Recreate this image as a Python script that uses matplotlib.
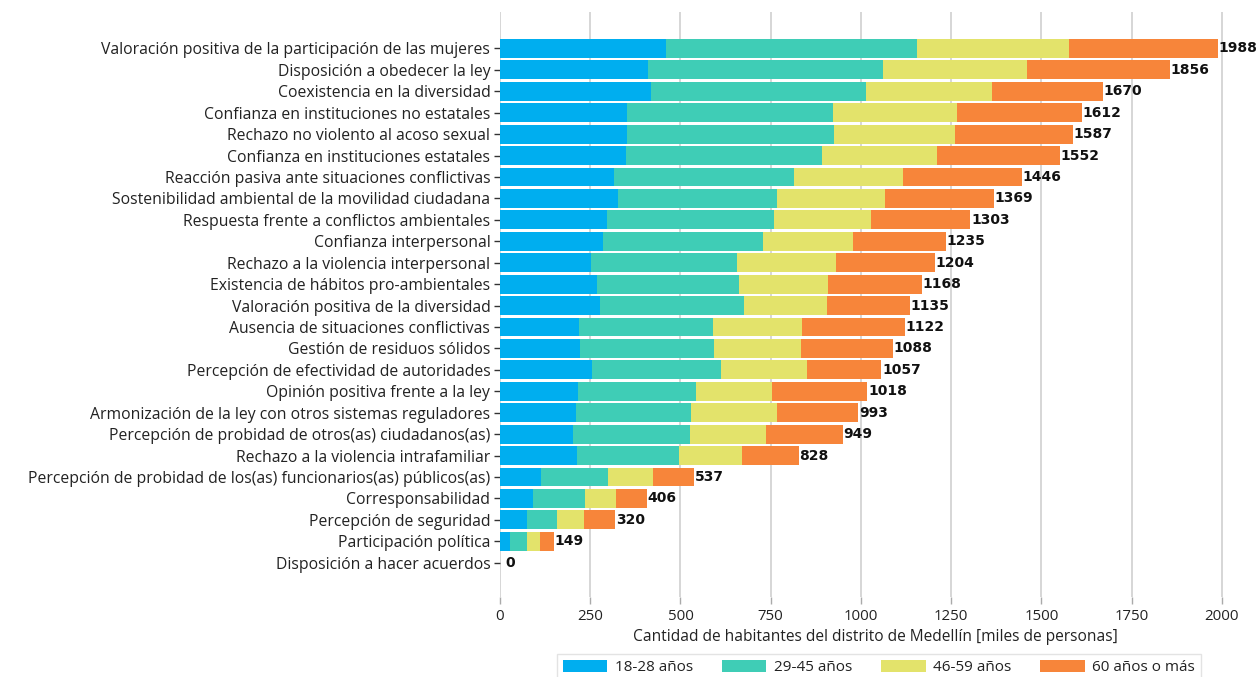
import matplotlib
matplotlib.use("Agg")
import matplotlib.pyplot as plt
import numpy as np

categories = [
    "Valoración positiva de la participación de las mujeres",
    "Disposición a obedecer la ley",
    "Coexistencia en la diversidad",
    "Confianza en instituciones no estatales",
    "Rechazo no violento al acoso sexual",
    "Confianza en instituciones estatales",
    "Reacción pasiva ante situaciones conflictivas",
    "Sostenibilidad ambiental de la movilidad ciudadana",
    "Respuesta frente a conflictos ambientales",
    "Confianza interpersonal",
    "Rechazo a la violencia interpersonal",
    "Existencia de hábitos pro-ambientales",
    "Valoración positiva de la diversidad",
    "Ausencia de situaciones conflictivas",
    "Gestión de residuos sólidos",
    "Percepción de efectividad de autoridades",
    "Opinión positiva frente a la ley",
    "Armonización de la ley con otros sistemas reguladores",
    "Percepción de probidad de otros(as) ciudadanos(as)",
    "Rechazo a la violencia intrafamiliar",
    "Percepción de probidad de los(as) funcionarios(as) públicos(as)",
    "Corresponsabilidad",
    "Percepción de seguridad",
    "Participación política",
    "Disposición a hacer acuerdos",
]

age_18_28 = [459, 411, 417, 353, 353, 349, 316, 328, 296, 284, 251, 268, 277, 219, 223, 255, 216, 210, 203, 214, 114, 91, 74, 28, 0]
age_29_45 = [697, 651, 598, 569, 572, 542, 498, 440, 463, 445, 406, 395, 399, 371, 371, 357, 326, 319, 323, 283, 185, 145, 84, 47, 0]
age_46_59 = [421, 398, 349, 343, 336, 319, 303, 298, 269, 248, 273, 247, 231, 247, 239, 238, 212, 239, 211, 173, 125, 85, 74, 36, 0]
totals = [1988, 1856, 1670, 1612, 1587, 1552, 1446, 1369, 1303, 1235, 1204, 1168, 1135, 1122, 1088, 1057, 1018, 993, 949, 828, 537, 406, 320, 149, 0]
age_60_plus = [t - a - b - c for t, a, b, c in zip(totals, age_18_28, age_29_45, age_46_59)]

series_names = ["18-28 años", "29-45 años", "46-59 años", "60 años o más"]
colors = ["#00AEEF", "#3FCDB6", "#E3E36B", "#F7853A"]

x_ticks = [0, 250, 500, 750, 1000, 1250, 1500, 1750, 2000]
x_label = "Cantidad de habitantes del distrito de Medellín [miles de personas]"

plt.rcParams['font.family'] = ['Open Sans', 'DejaVu Sans']

fig = plt.figure(figsize=(12.56, 6.77), dpi=100)
ax = fig.add_axes([500/1256, 1 - 597/677, 750/1256, (597 - 12)/677])

y = np.arange(len(categories))
left = np.zeros(len(categories))
series = [age_18_28, age_29_45, age_46_59, age_60_plus]
for vals, name, col in zip(series, series_names, colors):
    vals = np.array(vals, dtype=float)
    ax.barh(y, vals, left=left, height=0.88, color=col, label=name, zorder=3)
    left += vals

for yi, t in zip(y, totals):
    ax.text(t + (15 if t == 0 else 2), yi, f"{t}", va="center", ha="left", fontsize=10,
            fontweight="bold", family=["DejaVu Sans"], color="#111111", zorder=4)

ax.set_ylim(len(categories) - 1 + 1.6, -1.7)
ax.set_xlim(0, 2078)
ax.set_yticks(y)
ax.set_yticklabels(categories, fontsize=11.3, color="#222222")
ax.set_xticks(x_ticks)
ax.set_xticklabels([str(v) for v in x_ticks], fontsize=10.8, color="#222222")
ax.set_xlabel(x_label, fontsize=11.2, color="#222222", labelpad=3)

ax.grid(axis="x", color="#CFCFCF", linewidth=1.2, zorder=0)
for s in ax.spines.values():
    s.set_visible(False)
ax.tick_params(axis="y", length=4, width=1, color="#333333", pad=3)
ax.tick_params(axis="x", length=5, width=1, color="#AAAAAA", pad=4)

leg = fig.legend(loc="upper center", bbox_to_anchor=(879/1256, 1 - 646/677), ncol=4,
                 frameon=True, fontsize=11, handlelength=2.9, handleheight=0.9,
                 handletextpad=0.5, columnspacing=1.9, borderpad=0.4,
                 fancybox=False, edgecolor="#DDDDDD")
for txt in leg.get_texts():
    txt.set_color("#222222")

fig.savefig("out.png", dpi=100)
